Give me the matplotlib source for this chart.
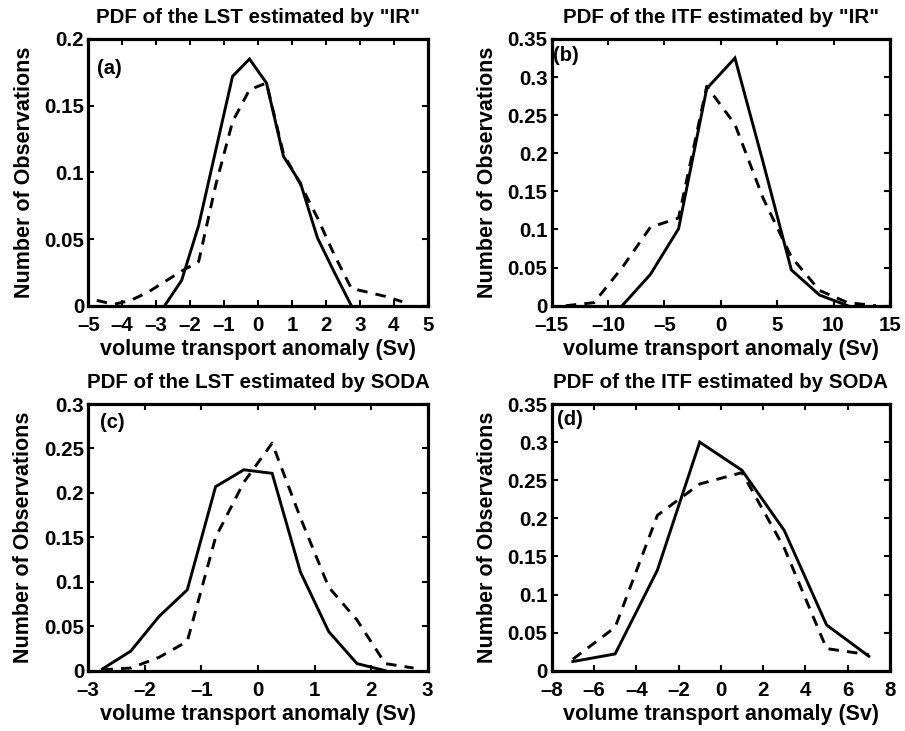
import matplotlib
matplotlib.use("Agg")
import matplotlib.pyplot as plt
import numpy as np

plt.rcParams['font.family'] = ['Liberation Sans', 'DejaVu Sans']
plt.rcParams['font.weight'] = 'bold'
plt.rcParams['axes.unicode_minus'] = False

# Panel (a): LST by "IR"
a_x_solid = [-2.75, -2.25, -1.75, -1.25, -0.75, -0.25, 0.25, 0.75, 1.25, 1.75, 2.25, 2.75]
a_y_solid = [0.0, 0.019, 0.060, 0.116, 0.172, 0.185, 0.167, 0.112, 0.092, 0.051, 0.025, 0.0]
a_x_dash = [-4.75, -4.25, -3.75, -3.25, -2.75, -2.25, -1.75, -1.25, -0.75, -0.25, 0.25, 0.75,
            1.25, 1.75, 2.25, 2.75, 3.25, 3.75, 4.25]
a_y_dash = [0.004, 0.001, 0.004, 0.010, 0.018, 0.026, 0.033, 0.090, 0.138, 0.162, 0.167, 0.114,
            0.091, 0.066, 0.038, 0.013, 0.010, 0.007, 0.003]

# Panel (b): ITF by "IR"
b_x_solid = [-8.75, -6.25, -3.75, -1.25, 1.25, 3.75, 6.25, 8.75, 11.25]
b_y_solid = [0.0, 0.041, 0.101, 0.285, 0.325, 0.188, 0.047, 0.014, 0.0]
b_x_dash = [-13.75, -11.25, -8.75, -6.25, -3.75, -1.25, 1.25, 3.75, 6.25, 8.75, 11.25, 13.75]
b_y_dash = [0.0, 0.004, 0.050, 0.103, 0.115, 0.288, 0.238, 0.141, 0.064, 0.020, 0.004, 0.0]

# Panel (c): LST by SODA
c_x_solid = [-2.75, -2.25, -1.75, -1.25, -0.75, -0.25, 0.25, 0.75, 1.25, 1.75, 2.25]
c_y_solid = [0.002, 0.022, 0.061, 0.091, 0.207, 0.226, 0.222, 0.111, 0.044, 0.008, 0.0]
c_x_dash = [-2.75, -2.25, -1.75, -1.25, -0.75, -0.25, 0.25, 0.75, 1.25, 1.75, 2.25, 2.75]
c_y_dash = [0.001, 0.003, 0.015, 0.033, 0.150, 0.212, 0.256, 0.172, 0.094, 0.057, 0.008, 0.003]

# Panel (d): ITF by SODA
d_x = [-7, -5, -3, -1, 1, 3, 5, 7]
d_y_solid = [0.012, 0.022, 0.132, 0.300, 0.263, 0.184, 0.060, 0.019]
d_y_dash = [0.015, 0.057, 0.204, 0.245, 0.260, 0.161, 0.029, 0.021]

titles = ['PDF of the LST estimated by "IR"', 'PDF of the ITF estimated by "IR"',
          'PDF of the LST estimated by SODA', 'PDF of the ITF estimated by SODA']
labels = ['(a)', '(b)', '(c)', '(d)']
xlims = [(-5, 5), (-15, 15), (-3, 3), (-8, 8)]
xticks = [np.arange(-5, 6, 1), np.arange(-15, 16, 5), np.arange(-3, 4, 1), np.arange(-8, 9, 2)]
ylims = [(0, 0.2), (0, 0.35), (0, 0.3), (0, 0.35)]
yticks = [[0, 0.05, 0.1, 0.15, 0.2],
          [0, 0.05, 0.1, 0.15, 0.2, 0.25, 0.3, 0.35],
          [0, 0.05, 0.1, 0.15, 0.2, 0.25, 0.3],
          [0, 0.05, 0.1, 0.15, 0.2, 0.25, 0.3, 0.35]]
ytlabels = [['0', '0.05', '0.1', '0.15', '0.2'],
            ['0', '0.05', '0.1', '0.15', '0.2', '0.25', '0.3', '0.35'],
            ['0', '0.05', '0.1', '0.15', '0.2', '0.25', '0.3'],
            ['0', '0.05', '0.1', '0.15', '0.2', '0.25', '0.3', '0.35']]
solids = [(a_x_solid, a_y_solid), (b_x_solid, b_y_solid), (c_x_solid, c_y_solid), (d_x, d_y_solid)]
dashes = [(a_x_dash, a_y_dash), (b_x_dash, b_y_dash), (c_x_dash, c_y_dash), (d_x, d_y_dash)]
label_pos = [(0.026, 0.925), (0.004, 0.972), (0.034, 0.968), (0.016, 0.978)]

fig = plt.figure(figsize=(9.05, 7.31), dpi=100)
W, H = 905, 731
boxes = [(88.3, 39, 427.7, 305.7), (551.7, 39, 890, 305.7),
         (88.3, 404, 427.7, 670.7), (551.7, 404, 890, 670.7)]

for i in range(4):
    l, t, r, b = boxes[i]
    ax = fig.add_axes([l / W, (H - b) / H, (r - l) / W, (b - t) / H])
    ax.plot(*solids[i], color='black', lw=2.1, solid_joinstyle='miter')
    ax.plot(*dashes[i], color='black', lw=2.1, dashes=(3.6, 2.8))
    ax.set_xlim(*xlims[i])
    ax.set_ylim(*ylims[i])
    ax.set_xticks(xticks[i])
    ax.set_xticklabels([str(v) if v >= 0 else '\u2013' + str(-v) for v in xticks[i]])
    ax.set_yticks(yticks[i])
    ax.set_yticklabels(ytlabels[i])
    ax.tick_params(direction='in', length=4, width=1.5, top=True, right=True,
                   labelsize=14.8)
    ax.tick_params(axis='x', pad=7.5)
    ax.tick_params(axis='y', pad=3)
    for s in ax.spines.values():
        s.set_linewidth(2.3)
    ax.set_title(titles[i], fontsize=14.8, fontweight='bold', pad=11.5)
    ax.set_xlabel('volume transport anomaly (Sv)', fontsize=15.5, fontweight='bold', labelpad=3)
    ax.set_ylabel('Number of Observations', fontsize=15.5, fontweight='bold', labelpad=7)
    ax.text(label_pos[i][0], label_pos[i][1], labels[i], transform=ax.transAxes, fontsize=14.5,
            fontweight='bold', va='top', ha='left')

fig.savefig('out.png', dpi=100)
